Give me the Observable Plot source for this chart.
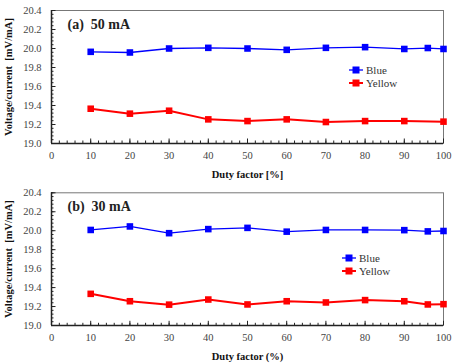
<!DOCTYPE html>
<html>
<head>
<meta charset="utf-8">
<script src="https://cdn.jsdelivr.net/npm/d3@7"></script>
<script src="https://cdn.jsdelivr.net/npm/@observablehq/plot@0.6"></script>
<style>
  html, body { margin: 0; padding: 0; background: #fff; }
  #wrap { position: relative; width: 463px; height: 364px; font-family: "Liberation Serif", "Times New Roman", Times, serif; }
  .panel { position: relative; width: 463px; height: 182px; }
  svg text, svg { font-family: "Liberation Serif", "Times New Roman", Times, serif !important; }
  .legend { position: absolute; font-size: 11px; color: #333; line-height: 12.5px; font-family: "Liberation Serif", "Times New Roman", Times, serif; }
  .legend div { display: flex; align-items: center; height: 12.5px; }
  .legend svg { margin-right: 3px; }
</style>
</head>
<body>
<div id="wrap"></div>
<script>
// Panel (a) 50 mA
const dutyA_blue = [10, 20, 30, 40, 50, 60, 70, 80, 90, 96, 100];
const valA_blue = [19.965, 19.958, 20.0, 20.007, 20.0, 19.986, 20.007, 20.014, 19.995, 20.005, 19.995];
const dutyA_yellow = [10, 20, 30, 40, 50, 60, 70, 80, 90, 100];
const valA_yellow = [19.366, 19.314, 19.345, 19.254, 19.236, 19.254, 19.226, 19.236, 19.236, 19.23];

// Panel (b) 30 mA
const dutyB_blue = [10, 20, 30, 40, 50, 60, 70, 80, 90, 96, 100];
const valB_blue = [20.008, 20.045, 19.974, 20.017, 20.03, 19.99, 20.008, 20.008, 20.006, 19.993, 19.997];
const dutyB_yellow = [10, 20, 30, 40, 50, 60, 70, 80, 90, 96, 100];
const valB_yellow = [19.334, 19.256, 19.22, 19.274, 19.222, 19.256, 19.243, 19.268, 19.256, 19.222, 19.225];

const seriesNames = ["Blue", "Yellow"];
const seriesColors = ["#0000ff", "#ff0000"];
const seriesWidths = [1.3, 2];
const xMajorTicks = [0, 10, 20, 30, 40, 50, 60, 70, 80, 90, 100];
const xMinorTicks = d3.range(0, 100.001, 2);
const yMajorTicks = [19.0, 19.2, 19.4, 19.6, 19.8, 20.0, 20.2, 20.4];
const yMinorTicks = d3.range(19.0, 20.401, 0.04);

const panels = [
  {label: "(a)  50 mA", xTitle: "Duty factor [%]", blue: [dutyA_blue, valA_blue], yellow: [dutyA_yellow, valA_yellow], legendLeft: 349, legendTop: 64},
  {label: "(b)  30 mA", xTitle: "Duty factor (%)", blue: [dutyB_blue, valB_blue], yellow: [dutyB_yellow, valB_yellow], legendLeft: 342, legendTop: 70}
];

const FONT = "'Liberation Serif', 'Times New Roman', Times, serif";
const wrap = document.getElementById("wrap");
const innerH = 133;
const innerW = 392;

panels.forEach((p, i) => {
  const series = [p.blue, p.yellow].map(([xs, ys]) => xs.map((d, j) => ({duty: d, v: ys[j]})));
  const seriesMarks = [];
  series.forEach((pts, k) => {
    seriesMarks.push(Plot.line(pts, {x: "duty", y: "v", stroke: seriesColors[k], strokeWidth: seriesWidths[k]}));
    seriesMarks.push(Plot.dot(pts, {x: "duty", y: "v", fill: seriesColors[k], symbol: "square", r: 3.7, stroke: "none"}));
  });
  const chart = Plot.plot({
    width: 463,
    height: 182,
    marginLeft: 51,
    marginRight: 20,
    marginTop: i === 0 ? 10 : 10.3,
    marginBottom: 39,
    style: {fontFamily: FONT, fontSize: "10.5px", color: "#333", background: "#fff"},
    x: {domain: [0, 100]},
    y: {domain: [19.0, 20.4]},
    marks: [
      Plot.frame({stroke: "#777", strokeWidth: 1}),
      Plot.axisX(xMajorTicks, {tickSize: 0, tickPadding: 8, tickFormat: d => d, fill: "#444", fontSize: 10.5,
        label: p.xTitle, labelAnchor: "center", labelArrow: "none", labelOffset: 34}),
      Plot.axisY(yMajorTicks, {tickSize: 0, tickPadding: 10, tickFormat: d3.format(".1f"), fill: "#444", fontSize: 10.5,
        label: "Voltage/current  [mV/mA]", labelAnchor: "center", labelArrow: "none", labelOffset: 47}),
      Plot.tickX(xMinorTicks, {x: d => d, stroke: "#222", strokeWidth: 1, insetTop: innerH - 2.5}),
      Plot.tickX(xMajorTicks, {x: d => d, stroke: "#222", strokeWidth: 1, insetTop: innerH - 4.5}),
      Plot.tickY(yMinorTicks, {y: d => d, stroke: "#222", strokeWidth: 1, insetRight: innerW - 2.5}),
      Plot.tickY(yMajorTicks, {y: d => d, stroke: "#222", strokeWidth: 1, insetRight: innerW - 4.5}),
      Plot.ruleX([0], {stroke: "#222", strokeWidth: 1.5}),
      Plot.ruleY([19.0], {stroke: "#222", strokeWidth: 1.5}),
      ...seriesMarks,
      Plot.text([p.label], {frameAnchor: "top-left", dx: 16, dy: 14, fontSize: 14, fontWeight: "bold", fill: "#222", textAnchor: "start", lineAnchor: "middle"})
    ]
  });
  chart.querySelectorAll("[aria-label='x-axis label'] text, [aria-label='y-axis label'] text").forEach(t => {
    t.setAttribute("font-weight", "bold");
    t.setAttribute("font-size", "10.5");
    t.setAttribute("fill", "#111");
  });
  const panel = document.createElement("div");
  panel.className = "panel";
  panel.appendChild(chart);
  const legend = document.createElement("div");
  legend.className = "legend";
  legend.style.left = p.legendLeft + "px";
  legend.style.top = p.legendTop + "px";
  seriesNames.forEach((name, k) => {
    const row = document.createElement("div");
    const c = seriesColors[k];
    row.innerHTML = `<svg width="14" height="10"><line x1="0" y1="5" x2="14" y2="5" stroke="${c}" stroke-width="${seriesWidths[k]}"/><rect x="3.5" y="1.5" width="7" height="7" fill="${c}"/></svg><span>${name}</span>`;
    legend.appendChild(row);
  });
  panel.appendChild(legend);
  wrap.appendChild(panel);
});
</script>
</body>
</html>
